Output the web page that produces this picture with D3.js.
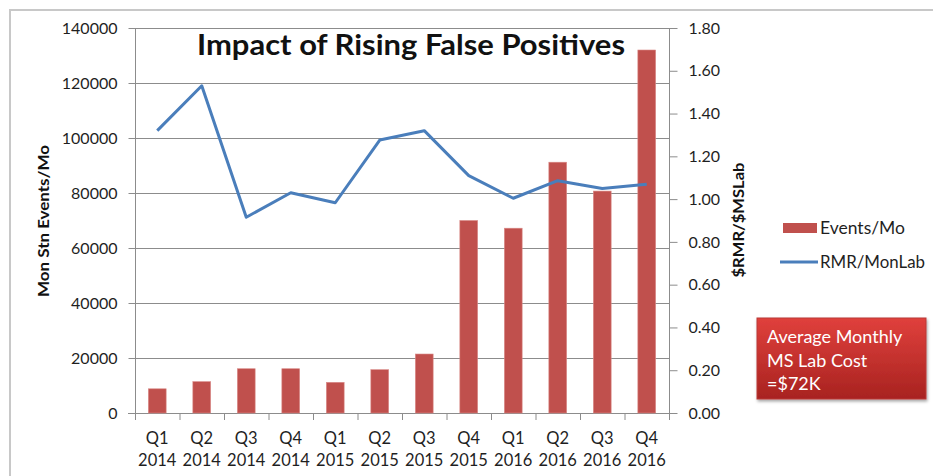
<!DOCTYPE html>
<html>
<head>
<meta charset="utf-8">
<script src="https://cdn.jsdelivr.net/npm/d3@7"></script>
<style>
html,body{margin:0;padding:0;background:#fff;}
svg{display:block;}
text{font-family:Lato,"Open Sans",sans-serif;}
</style>
</head>
<body>
<svg id="chart" width="933" height="476"></svg>
<script>
const quarters = ["Q1","Q2","Q3","Q4","Q1","Q2","Q3","Q4","Q1","Q2","Q3","Q4"];
const years = ["2014","2014","2014","2014","2015","2015","2015","2015","2016","2016","2016","2016"];
const events = [8800, 11400, 16100, 16100, 11150, 15750, 21450, 70000, 67200, 91200, 80700, 132000];
const ratio = [1.32, 1.53, 0.915, 1.03, 0.983, 1.276, 1.32, 1.11, 1.004, 1.086, 1.05, 1.069];
const leftTicks = [0,20000,40000,60000,80000,100000,120000,140000];
const rightTicks = [0,0.2,0.4,0.6,0.8,1.0,1.2,1.4,1.6,1.8];

const svg = d3.select("#chart");
const L = 135, R = 669, T = 28, B = 413;
const idx = d3.range(quarters.length);
const x = d3.scaleBand().domain(idx).range([L, R]).paddingInner(0.6).paddingOuter(0.3);
const xb = d3.scaleBand().domain(idx).range([L, R]);
const yL = d3.scaleLinear().domain([0,140000]).range([B, T]);
const yR = d3.scaleLinear().domain([0,1.8]).range([B, T]);

// outer border
svg.append("path").attr("d", "M10,476 V10 H933").attr("fill","none").attr("stroke","#c8c8c8").attr("stroke-width",2);

// gridlines
svg.append("g").selectAll("line").data(leftTicks.slice(1)).join("line")
  .attr("x1", L).attr("x2", R).attr("y1", d=>yL(d)+0.5).attr("y2", d=>yL(d)+0.5)
  .attr("stroke","#8c8c8c").attr("stroke-width",1);

// left axis
const gL = svg.append("g").attr("transform",`translate(${L+0.5},0)`)
  .call(d3.axisLeft(yL).tickValues(leftTicks).tickFormat(d3.format("d")).tickSize(7).tickPadding(11));
gL.select(".domain").attr("stroke","#8c8c8c").attr("d", `M0,${T}V${B+7}`);
gL.selectAll(".tick line").attr("stroke","#8c8c8c");
gL.selectAll(".tick text").attr("fill","#1f1f1f").style("font-size","16px").style("font-family","Lato");

// right axis
const gR = svg.append("g").attr("transform",`translate(${R+0.5},0)`)
  .call(d3.axisRight(yR).tickValues(rightTicks).tickFormat(d3.format(".2f")).tickSize(8).tickPadding(11));
gR.select(".domain").attr("stroke","#8c8c8c").attr("d", `M0,${T}V${B+7}`);
gR.selectAll(".tick line").attr("stroke","#8c8c8c");
gR.selectAll(".tick text").attr("fill","#1f1f1f").style("font-size","16px").style("font-family","Lato");

// bottom axis line and ticks
svg.append("line").attr("x1",L-7).attr("x2",R).attr("y1",B+0.5).attr("y2",B+0.5).attr("stroke","#8c8c8c");
svg.append("g").selectAll("line").data(idx.slice(1).concat([quarters.length])).join("line")
  .attr("x1", d=> (d<quarters.length? xb(d): R)+0.5).attr("x2", d=> (d<quarters.length? xb(d): R)+0.5)
  .attr("y1", B).attr("y2", B+7).attr("stroke","#8c8c8c");

// x labels
const xl = svg.append("g").selectAll("text").data(idx).join("text")
  .attr("x", d=> xb(d)+xb.bandwidth()/2).attr("text-anchor","middle")
  .attr("fill","#1f1f1f").style("font-size","16.5px");
xl.append("tspan").attr("x", d=> xb(d)+xb.bandwidth()/2).attr("y", 444).text(d=>quarters[d]);
xl.append("tspan").attr("x", d=> xb(d)+xb.bandwidth()/2).attr("y", 466).text(d=>years[d]);

// bars
svg.append("g").selectAll("rect").data(idx).join("rect")
  .attr("x", d=>x(d)).attr("width", x.bandwidth())
  .attr("y", d=>yL(events[d])).attr("height", d=>B - yL(events[d]))
  .attr("fill","#C0504D").attr("stroke","#d98a88").attr("stroke-width",0.6);

// line
const line = d3.line().x(d=>xb(d)+xb.bandwidth()/2).y(d=>yR(ratio[d]));
svg.append("path").datum(idx).attr("d", line).attr("fill","none")
  .attr("stroke","#4A7EBB").attr("stroke-width",3).attr("stroke-linejoin","round");

// title
svg.append("text").attr("x", 411).attr("y", 55).attr("text-anchor","middle")
  .attr("textLength", 428).attr("lengthAdjust","spacingAndGlyphs")
  .style("font-size","29px").style("font-weight","bold").attr("fill","#111").text("Impact of Rising False Positives");

// axis titles
svg.append("text").attr("transform","translate(49,221) rotate(-90)").attr("text-anchor","middle")
  .attr("textLength",152).attr("lengthAdjust","spacingAndGlyphs")
  .style("font-size","16px").style("font-weight","bold").attr("fill","#111").text("Mon Stn Events/Mo");
svg.append("text").attr("transform","translate(744,220) rotate(-90)").attr("text-anchor","middle")
  .attr("textLength",115).attr("lengthAdjust","spacingAndGlyphs")
  .style("font-size","16px").style("font-weight","bold").attr("fill","#111").text("$RMR/$MSLab");

// legend
svg.append("rect").attr("x",783).attr("y",223).attr("width",34).attr("height",10).attr("fill","#C0504D");
svg.append("text").attr("x",820).attr("y",234).attr("textLength",85).attr("lengthAdjust","spacingAndGlyphs")
  .style("font-size","17px").attr("fill","#1f1f1f").text("Events/Mo");
svg.append("line").attr("x1",780).attr("x2",818).attr("y1",262).attr("y2",262).attr("stroke","#4A7EBB").attr("stroke-width",3);
svg.append("text").attr("x",820).attr("y",268).attr("textLength",105).attr("lengthAdjust","spacingAndGlyphs")
  .style("font-size","17px").attr("fill","#1f1f1f").text("RMR/MonLab");

// annotation box
const defs = svg.append("defs");
const grad = defs.append("linearGradient").attr("id","boxg").attr("x1",0).attr("y1",0).attr("x2",0).attr("y2",1);
grad.append("stop").attr("offset","0%").attr("stop-color","#e0403c");
grad.append("stop").attr("offset","100%").attr("stop-color","#a82320");
const filt = defs.append("filter").attr("id","sh").attr("x","-10%").attr("y","-10%").attr("width","130%").attr("height","140%");
filt.append("feDropShadow").attr("dx",1).attr("dy",2).attr("stdDeviation",1.5).attr("flood-color","#000").attr("flood-opacity",0.35);
svg.append("rect").attr("x",757).attr("y",318).attr("width",169).attr("height",81)
  .attr("fill","url(#boxg)").attr("stroke","#b93a37").attr("stroke-width",1).attr("filter","url(#sh)");
const boxLines = ["Average Monthly","MS Lab Cost","=$72K"];
svg.append("g").selectAll("text").data(boxLines).join("text")
  .attr("x",767).attr("y",(d,i)=>343+i*23.5).style("font-size","18px").attr("fill","#fff").text(d=>d);
</script>
</body>
</html>
